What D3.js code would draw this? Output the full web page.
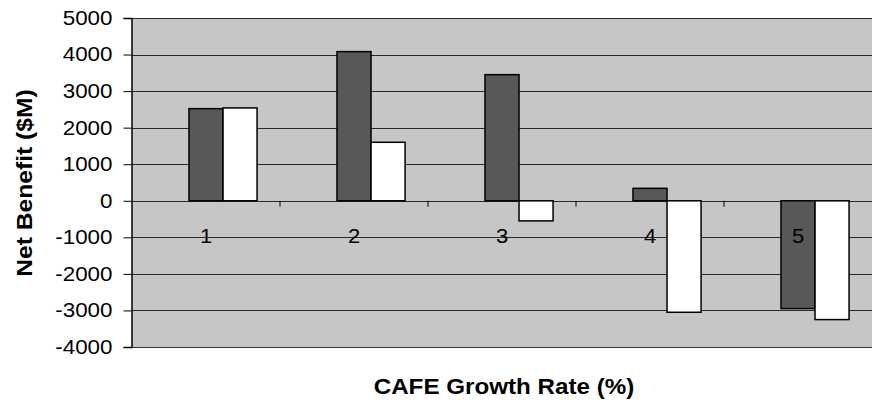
<!DOCTYPE html>
<html>
<head>
<meta charset="utf-8">
<script src="https://cdn.jsdelivr.net/npm/d3@7"></script>
<style>
  html, body { margin: 0; padding: 0; background: #fff; }
  svg { display: block; }
  text { font-family: "Liberation Sans", Arial, sans-serif; fill: #000; }
</style>
</head>
<body>
<svg id="chart" width="876" height="406"></svg>
<script>
// ---- data ----
const categories = ["1", "2", "3", "4", "5"];
const seriesNames = ["(empty)", "Series A", "Series B"];
const seriesEmpty = [0, 0, 0, 0, 0];
const seriesA = [2520, 4080, 3450, 340, -2950];
const seriesB = [2540, 1600, -550, -3050, -3250];
const yTicks = [-4000, -3000, -2000, -1000, 0, 1000, 2000, 3000, 4000, 5000];
const xTitle = "CAFE Growth Rate (%)";
const yTitle = "Net Benefit ($M)";

// ---- layout ----
const plot = { left: 132, right: 872, top: 18, bottom: 347 };
const svg = d3.select("#chart");

const x = d3.scaleBand().domain(categories).range([plot.left, plot.right])
  .paddingInner(0.31).paddingOuter(0.155);
const xs = d3.scaleBand().domain(seriesNames).range([0, x.bandwidth()]);
const y = d3.scaleLinear().domain([-4000, 5000]).range([plot.bottom, plot.top]);

// plot background
svg.append("rect")
  .attr("x", plot.left).attr("y", plot.top)
  .attr("width", plot.right - plot.left).attr("height", plot.bottom - plot.top)
  .attr("fill", "#c6c6c6");

// gridlines
svg.append("g").selectAll("line").data(yTicks).join("line")
  .attr("x1", plot.left).attr("x2", plot.right)
  .attr("y1", d => Math.round(y(d)) + 0.5).attr("y2", d => Math.round(y(d)) + 0.5)
  .attr("stroke", "#2a2a2a").attr("stroke-width", 1);

// y axis
const yAxis = svg.append("g").attr("transform", `translate(${plot.left - 0.5},0)`)
  .call(d3.axisLeft(y).tickValues(yTicks).tickSize(8).tickPadding(11).tickFormat(d => String(d)));
yAxis.select(".domain").attr("stroke", "#000").attr("stroke-width", 1.5);
yAxis.selectAll(".tick line").attr("stroke", "#000");
yAxis.selectAll(".tick text")
  .attr("font-size", 20).attr("fill", "#000")
  .attr("font-family", "Liberation Sans, Arial, sans-serif")
  .each(function() {
    const t = d3.select(this);
    const xx = +t.attr("x");
    t.attr("x", null).attr("transform", `translate(${xx},0) scale(1.12,1)`);
  });

// bars
const seriesData = [seriesEmpty, seriesA, seriesB];
const fills = [null, "#585858", "#ffffff"];
[1, 2].forEach(si => {
  svg.append("g").selectAll("rect").data(categories).join("rect")
    .attr("x", (c) => x(c) + xs(seriesNames[si]))
    .attr("width", xs.bandwidth())
    .attr("y", (c, i) => y(Math.max(0, seriesData[si][i])))
    .attr("height", (c, i) => Math.abs(y(seriesData[si][i]) - y(0)))
    .attr("fill", fills[si])
    .attr("stroke", "#000").attr("stroke-width", 1.5);
});

// category boundary ticks on the zero line
const bounds = d3.range(categories.length + 1).map(i => plot.left + i * x.step());
svg.append("g").selectAll("line").data(bounds.slice(1, -1)).join("line")
  .attr("x1", d => d).attr("x2", d => d)
  .attr("y1", y(0)).attr("y2", y(0) + 6)
  .attr("stroke", "#000");

// category labels via axis
const xAxis = svg.append("g").attr("transform", `translate(0,${y(0)})`)
  .call(d3.axisBottom(x).tickSize(0).tickPadding(28));
xAxis.select(".domain").remove();
xAxis.selectAll(".tick text")
  .attr("font-size", 20).attr("fill", "#000")
  .attr("font-family", "Liberation Sans, Arial, sans-serif")
  .attr("transform", "scale(1.1,1)")
  .attr("x", 0);

// bottom plot edge
svg.append("line")
  .attr("x1", plot.left).attr("x2", plot.right)
  .attr("y1", plot.bottom + 0.5).attr("y2", plot.bottom + 0.5)
  .attr("stroke", "#333").attr("stroke-width", 1);

// titles
svg.append("text")
  .attr("transform", `translate(${(plot.left + plot.right) / 2 + 2},394) scale(1.1,1)`)
  .attr("text-anchor", "middle")
  .attr("font-size", 22).attr("font-weight", "bold")
  .text(xTitle);

svg.append("text")
  .attr("transform", `translate(32,183) rotate(-90) scale(1.12,1)`)
  .attr("text-anchor", "middle")
  .attr("font-size", 22).attr("font-weight", "bold")
  .text(yTitle);
</script>
</body>
</html>
